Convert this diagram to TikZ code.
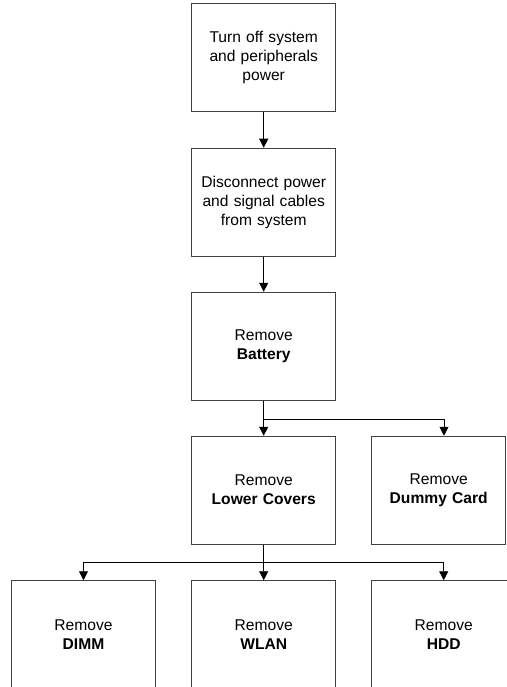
\documentclass[tikz,border=0pt]{standalone}
\usepackage{fontspec}
\setmainfont{Liberation Sans}
\usetikzlibrary{arrows.meta}
\begin{document}
\begin{tikzpicture}[x=1pt,y=-1pt,
  box/.style={draw=black!75, line width=0.9pt, minimum width=144pt, minimum height=108pt,
    inner sep=0pt, align=center, text width=140pt, font=\fontsize{15.6}{19}\selectfont},
  conn/.style={draw=black, line width=0.9pt, -{Triangle[length=9pt,width=9pt]}}]
\useasboundingbox (0,0) rectangle (506,687);
\node[box] (b1) at (263.7,57.8) {Turn off system\\and peripherals\\power};
\node[box] (b2) at (263.7,202.2) {Disconnect power\\and signal cables\\from system};
\node[box] (b3) at (263.7,346.2) {Remove\\\textbf{Battery}};
\node[box] (lower) at (263.7,490.2) {Remove\\\textbf{Lower Covers}};
\node[box, minimum width=134pt, text width=130pt] (dummy) at (438.7,490.2) {Remove\\\textbf{Dummy Card}};
\node[box] (dimm) at (83.5,634.7) {Remove\\\textbf{DIMM}};
\node[box] (wlan) at (263.7,634.7) {Remove\\\textbf{WLAN}};
\node[box] (hdd) at (443.7,634.7) {Remove\\\textbf{HDD}};
\coordinate (j1) at (263.7,419);
\coordinate (j2) at (263.7,562);
\draw[conn] (b1) -- (b2);
\draw[conn] (b2) -- (b3);
\draw[conn] (b3) -- (lower);
\draw[conn] (j1) -| ([xshift=5.3pt]dummy.north);
\draw[conn] (lower) -- (wlan);
\draw[conn] (j2) -| (dimm.north);
\draw[conn] (j2) -| (hdd.north);
\end{tikzpicture}
\end{document}
